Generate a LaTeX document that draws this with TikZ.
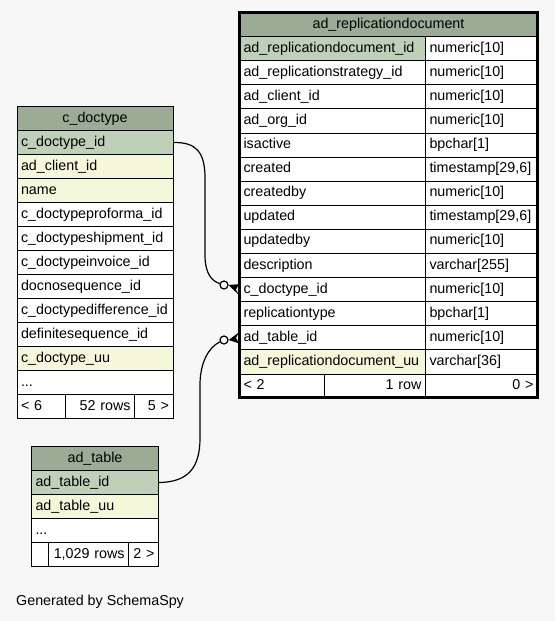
\documentclass[tikz,border=0pt]{standalone}
\usepackage{fontspec}
\setmainfont{Liberation Sans}
\definecolor{bgc}{HTML}{F7F7F7}
\definecolor{hdrc}{HTML}{9BAB96}
\definecolor{pkc}{HTML}{BED1B8}
\definecolor{idxc}{HTML}{F4F7DA}
\newcommand{\erfont}{\fontsize{14.3}{17}\selectfont}
\newcommand{\moredots}{...}
\tikzset{
	cell/.style={draw, line width=1pt, rectangle, anchor=north west, inner xsep=4pt, inner ysep=0pt,
		minimum height=24.1pt, text height=10.5pt, text depth=3.5pt, align=left, font=\erfont},
	hdr/.style={cell, fill=hdrc, align=center},
	conn/.style={line width=1.2pt},
	odot/.style={circle, draw, line width=1.2pt, fill=bgc, minimum size=8pt, inner sep=0pt}
}

\begin{document}
\begin{tikzpicture}[x=1pt,y=-1pt]
	\fill[bgc] (0,0) rectangle (555,621);
	\useasboundingbox (0,0) rectangle (555,621);
	% ad_replicationdocument
	\node[hdr, text width=290pt] (rd-h) at (239,12) {ad\_replicationdocument};
	\foreach \i/\nm/\ty/\fc in {1/ad\_replicationdocument\_id/numeric[10]/pkc,
		2/ad\_replicationstrategy\_id/numeric[10]/white, 3/ad\_client\_id/numeric[10]/white,
		4/ad\_org\_id/numeric[10]/white, 5/isactive/bpchar[1]/white,
		6/created/{timestamp[29,6]}/white, 7/createdby/numeric[10]/white,
		8/updated/{timestamp[29,6]}/white, 9/updatedby/numeric[10]/white,
		10/description/varchar[255]/white, 11/c\_doctype\_id/numeric[10]/white,
		12/replicationtype/bpchar[1]/white, 13/ad\_table\_id/numeric[10]/white,
		14/ad\_replicationdocument\_uu/varchar[36]/idxc}
	{
		\node[cell, fill=\fc, text width=178pt] (rd-\i) at (239,{12+24.1*\i}) {\nm};
		\node[cell, fill=white, text width=104pt] (rdt-\i) at (425,{12+24.1*\i}) {\ty};
	}
	\node[cell, fill=white, text width=77pt] (rd-f1) at (239,373.5) {< 2};
	\node[cell, fill=white, text width=93pt, align=right] (rd-f2) at (324,373.5) {1 row};
	\node[cell, fill=white, text width=104pt, align=right] (rd-f3) at (425,373.5) {0 >};
	\draw[line width=3pt] (239,12) rectangle (537,397.6);
	% c_doctype
	\node[hdr, text width=148pt] (ct-h) at (16.5,106) {c\_doctype};
	\foreach \i/\nm/\fc in {1/c\_doctype\_id/pkc, 2/ad\_client\_id/idxc, 3/name/idxc,
		4/c\_doctypeproforma\_id/white, 5/c\_doctypeshipment\_id/white,
		6/c\_doctypeinvoice\_id/white, 7/docnosequence\_id/white,
		8/c\_doctypedifference\_id/white, 9/definitesequence\_id/white,
		10/c\_doctype\_uu/idxc, 11/\moredots/white}
	{
		\node[cell, fill=\fc, text width=148pt] (ct-\i) at (16.5,{106+24*\i}) {\nm};
	}
	\node[cell, fill=white, text width=40.5pt] (ct-f1) at (16.5,394) {< 6};
	\node[cell, fill=white, text width=61pt, align=right] (ct-f2) at (65,394) {52 rows};
	\node[cell, fill=white, text width=30.5pt, align=right] (ct-f3) at (134,394) {5 >};
	% ad_table
	\node[hdr, text width=119pt] (at-h) at (31,446) {ad\_table};
	\foreach \i/\nm/\fc in {1/ad\_table\_id/pkc, 2/ad\_table\_uu/idxc, 3/\moredots/white}
	{
		\node[cell, fill=\fc, text width=119pt] (at-\i) at (31,{446+24*\i}) {\nm};
	}
	\node[cell, fill=white, text width=9pt] (at-f1) at (31,542) {};
	\node[cell, fill=white, text width=72pt, align=right] (at-f2) at (48,542) {1,029 rows};
	\node[cell, fill=white, text width=22pt, align=right] (at-f3) at (128,542) {2 >};
	% relations
	\node[odot] (o1) at (224,285) {};
	\node[odot] (o2) at (224,340) {};
	\draw[conn] (ct-1.east) .. controls (196,142) and (205,152) .. (205,178) -- (205,255)
		.. controls (205,274) and (212,281) .. (o1);
	\fill (o1.east) -- ([yshift=5.5pt]rd-11.west) -- ([xshift=-3pt]rd-11.west)
		-- ([yshift=-5.5pt]rd-11.west) -- cycle;
	\draw[conn] (at-1.east) .. controls (188,482) and (200,468) .. (200,438) -- (200,385)
		.. controls (200,362) and (209,347) .. (o2);
	\fill (o2.east) -- ([yshift=5.5pt]rd-13.west) -- ([xshift=-3pt]rd-13.west)
		-- ([yshift=-5.5pt]rd-13.west) -- cycle;
	\node[anchor=west, font=\erfont, inner sep=0pt] (gen) at (16,601.5) {Generated by SchemaSpy};
\end{tikzpicture}
\end{document}
